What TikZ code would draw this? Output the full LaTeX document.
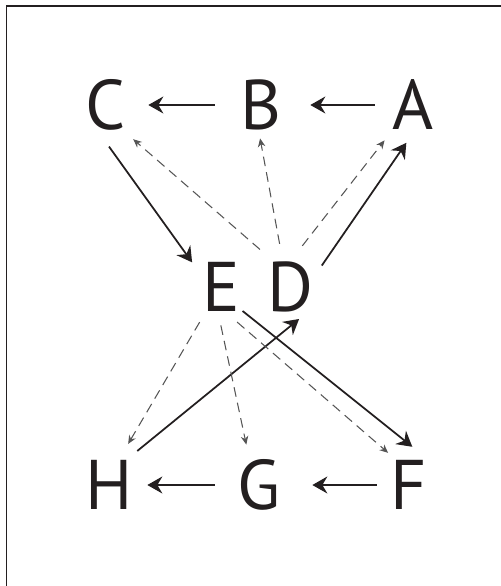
\documentclass[tikz,border=0pt]{standalone}
\usepackage{fontspec}
\setmainfont{PT Sans}
\usetikzlibrary{arrows.meta}
\definecolor{InkBlack}{RGB}{35,31,32}
\definecolor{DashGray}{RGB}{85,85,85}

\begin{document}
\begin{tikzpicture}[
  letter/.style={circle, minimum size=1.52cm, inner sep=0pt, text=InkBlack,
    font=\fontsize{40}{48}\selectfont},
  sarr/.style={-{Stealth[length=3mm, width=3.4mm, inset=1mm]}, line width=1pt, InkBlack},
  darr/.style={-{Stealth[length=1.7mm, width=1.5mm]}, line width=0.6pt, DashGray,
    dash pattern=on 5.5pt off 3.5pt},
]
\useasboundingbox (0,0) rectangle (10.02,-11.72);
% Frame
\draw[line width=1.1pt, InkBlack] (0.13,-11.72) |- (10.02,-0.12);
% Top row
\node[letter] (C) at (2.12,-2.10) {C};
\node[letter] (B) at (5.22,-2.10) {B};
\node[letter] (A) at (8.26,-2.10) {A};
% Middle
\node[letter] (E) at (4.43,-5.74) {E};
\node[letter] (D) at (5.80,-5.74) {D};
% Bottom row
\node[letter] (H) at (2.18,-9.70) {H};
\node[letter] (G) at (5.18,-9.70) {G};
\node[letter] (F) at (8.18,-9.70) {F};
% Row arrows
\draw[sarr, shorten >=0.22cm] (A) -- (B);
\draw[sarr, shorten <=0.16cm, shorten >=0.08cm] (B) -- (C);
\draw[sarr, shorten <=-0.12cm, shorten >=0.3cm] (F) -- (G);
\draw[sarr, shorten <=0.12cm] (G) -- (H);
% Crossing arrows
\draw[sarr, shorten <=0.08cm] (C.-89) -- (E.140);
\draw[sarr] (D.34) -- (A.-100);
\draw[sarr, shorten <=-0.13cm] (E.-47) -- (F.85);
\draw[sarr, shorten <=0.12cm, shorten >=-0.2cm] (H.52) -- (D.-88);
% Dashed fans
\draw[darr, shorten <=0.2cm, shorten >=0.11cm] (D.126) -- (C.-53);
\draw[darr, shorten <=0.12cm, shorten >=-0.1cm] (D.104) -- (B.-90);
\draw[darr, shorten <=0.1cm, shorten >=0.14cm] (D.76) -- (A.-129);
\draw[darr, shorten <=0.06cm, shorten >=0.14cm] (E.-122) -- (H.66);
\draw[darr, shorten >=0.08cm] (E.-91) -- (G.108);
\draw[darr] (E.-66) -- (F.123);
\end{tikzpicture}
\end{document}
